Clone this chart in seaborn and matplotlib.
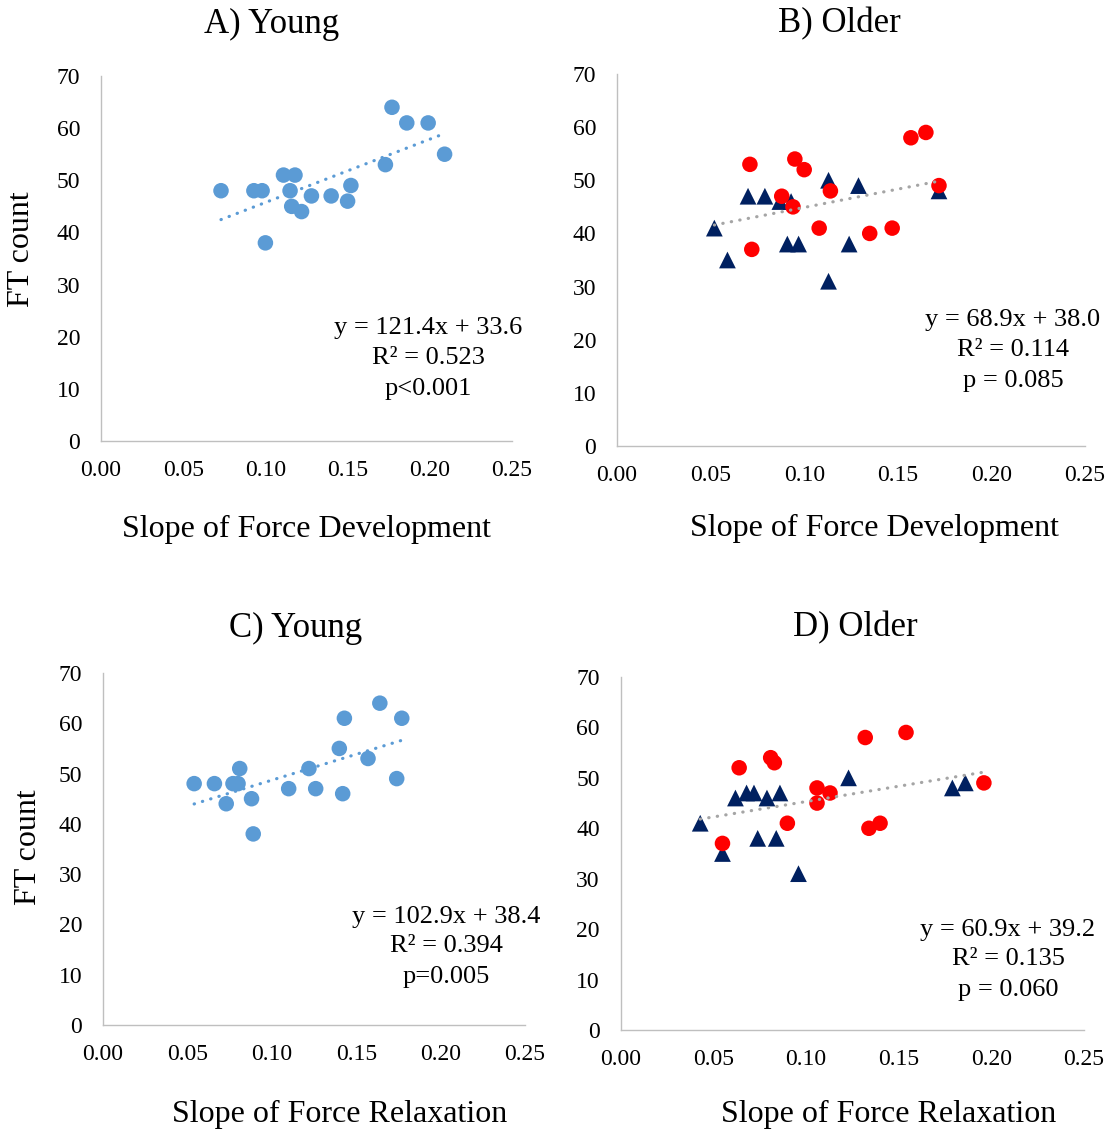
import numpy as np
import pandas as pd
import matplotlib
matplotlib.use("Agg")
import matplotlib.pyplot as plt
import seaborn as sns

# ---- data -------------------------------------------------------------
# A) Young: slope of force development vs FT count
young_dev_x = [0.073, 0.093, 0.098, 0.100, 0.111, 0.118, 0.115, 0.116, 0.122,
               0.128, 0.140, 0.150, 0.152, 0.173, 0.177, 0.186, 0.199, 0.209]
young_dev_y = [48, 48, 48, 38, 51, 51, 48, 45, 44, 47, 47, 46, 49, 53, 64, 61, 61, 55]

# B) Older: slope of force development vs FT count (two subgroups)
older_dev_red_x = [0.071, 0.095, 0.100, 0.088, 0.094, 0.114, 0.108, 0.072,
                   0.135, 0.147, 0.157, 0.165, 0.172]
older_dev_red_y = [53, 54, 52, 47, 45, 48, 41, 37, 40, 41, 58, 59, 49]
older_dev_navy_x = [0.052, 0.059, 0.070, 0.079, 0.087, 0.093, 0.091, 0.097,
                    0.113, 0.129, 0.124, 0.113, 0.172]
older_dev_navy_y = [41, 35, 47, 47, 46, 46, 38, 38, 50, 49, 38, 31, 48]

# C) Young: slope of force relaxation vs FT count
young_rel_x = [0.054, 0.066, 0.077, 0.080, 0.081, 0.073, 0.088, 0.089, 0.110,
               0.122, 0.126, 0.140, 0.143, 0.142, 0.157, 0.164, 0.177, 0.174]
young_rel_y = [48, 48, 48, 48, 51, 44, 45, 38, 47, 51, 47, 55, 61, 46, 53, 64, 61, 49]

# D) Older: slope of force relaxation vs FT count (two subgroups)
older_rel_red_x = [0.064, 0.081, 0.083, 0.055, 0.090, 0.106, 0.113, 0.106,
                   0.132, 0.154, 0.134, 0.140, 0.196]
older_rel_red_y = [52, 54, 53, 37, 41, 48, 47, 45, 58, 59, 40, 41, 49]
older_rel_navy_x = [0.043, 0.055, 0.062, 0.068, 0.072, 0.079, 0.086, 0.074,
                    0.084, 0.096, 0.123, 0.179, 0.186]
older_rel_navy_y = [41, 35, 46, 47, 47, 46, 47, 38, 38, 31, 50, 48, 49]

# linear trend coefficients (slope, intercept) and fit statistics
trend_A = (121.4, 33.6)
trend_B = (68.9, 38.0)
trend_C = (102.9, 38.4)
trend_D = (60.9, 39.2)
stats_A = ["y = 121.4x + 33.6", "R² = 0.523", "p<0.001"]
stats_B = ["y = 68.9x + 38.0", "R² = 0.114", "p = 0.085"]
stats_C = ["y = 102.9x + 38.4", "R² = 0.394", "p=0.005"]
stats_D = ["y = 60.9x + 39.2", "R² = 0.135", "p = 0.060"]

titles = ["A) Young", "B) Older", "C) Young", "D) Older"]
xlabels = ["Slope of Force Development", "Slope of Force Development",
           "Slope of Force Relaxation", "Slope of Force Relaxation"]
ylabel = "FT count"
x_ticks = [0.00, 0.05, 0.10, 0.15, 0.20, 0.25]
y_ticks = [0, 10, 20, 30, 40, 50, 60, 70]

# ---- style ------------------------------------------------------------
sns.set_theme(style="white")
plt.rcParams["font.family"] = ["Liberation Serif", "DejaVu Serif"]
plt.rcParams["text.color"] = "black"

BLUE = "#5B9BD5"
RED = "#FF0000"
NAVY = "#002060"
GREY = "#A5A5A5"
AXIS = "#BFBFBF"

W, H = 1114, 1131
fig = plt.figure(figsize=(W / 100, H / 100), dpi=100)
fig.patch.set_facecolor("white")


def px_axes(left, right, y0, y70):
    """Axes placed by pixel coordinates: left/right x, baseline and top y."""
    return fig.add_axes([left / W, 1 - y0 / H, (right - left) / W, (y0 - y70) / H])


def style_axes(ax):
    ax.set_xlim(0, 0.25)
    ax.set_ylim(0, 70)
    ax.set_xticks(x_ticks)
    ax.set_xticklabels([f"{t:.2f}" for t in x_ticks])
    ax.set_yticks(y_ticks)
    ax.set_yticklabels([str(t) for t in y_ticks])
    ax.tick_params(axis="both", length=0, labelsize=17, colors="black")
    ax.tick_params(axis="y", pad=15)
    ax.tick_params(axis="x", pad=14)
    for side in ["top", "right"]:
        ax.spines[side].set_visible(False)
    for side in ["left", "bottom"]:
        ax.spines[side].set_color(AXIS)
        ax.spines[side].set_linewidth(1.0)
    ax.set_xlabel("")
    ax.set_ylabel("")
    ax.grid(False)
    ax.set_facecolor("white")


def trend(ax, xs, coef, color):
    x0, x1 = min(xs), max(xs)
    xl = np.array([x0, x1])
    ax.plot(xl, coef[0] * xl + coef[1], color=color, lw=2.3,
            linestyle=(0, (0.1, 2.6)), dash_capstyle="round", zorder=5)


def young_panel(ax, xs, ys, coef):
    df = pd.DataFrame({"x": xs, "y": ys})
    sns.scatterplot(data=df, x="x", y="y", ax=ax, color=BLUE, s=125,
                    edgecolor="none", linewidth=0, zorder=3)
    trend(ax, xs, coef, BLUE)
    style_axes(ax)


def older_panel(ax, xr, yr, xn, yn, coef):
    dfn = pd.DataFrame({"x": xn, "y": yn})
    dfr = pd.DataFrame({"x": xr, "y": yr})
    sns.scatterplot(data=dfn, x="x", y="y", ax=ax, color=NAVY, marker="^",
                    s=145, edgecolor="none", linewidth=0, zorder=3)
    sns.scatterplot(data=dfr, x="x", y="y", ax=ax, color=RED, s=125,
                    edgecolor="none", linewidth=0, zorder=4)
    trend(ax, list(xr) + list(xn), coef, GREY)
    style_axes(ax)


axA = px_axes(101, 512, 441, 76)
axB = px_axes(617, 1085, 446, 74)
axC = px_axes(103, 525, 1025, 673)
axD = px_axes(620.5, 1084, 1030, 677)

young_panel(axA, young_dev_x, young_dev_y, trend_A)
older_panel(axB, older_dev_red_x, older_dev_red_y,
            older_dev_navy_x, older_dev_navy_y, trend_B)
young_panel(axC, young_rel_x, young_rel_y, trend_C)
older_panel(axD, older_rel_red_x, older_rel_red_y,
            older_rel_navy_x, older_rel_navy_y, trend_D)


def ftext(x, y, s, size, **kw):
    fig.text(x / W, 1 - y / H, s, fontsize=size, ha="center", va="center",
             color="black", **kw)


# panel titles
for (x, y), t in zip([(272, 24), (839, 24), (296, 628), (855, 628)], titles):
    ftext(x, y, t, 25)

# x-axis titles
for (x, y), t in zip([(307, 529), (875, 528), (340, 1114), (889, 1114)], xlabels):
    ftext(x, y, t, 23)

# y-axis titles
ftext(22, 249, ylabel, 23, rotation=90)
ftext(28, 847, ylabel, 23, rotation=90)

# regression annotations
for (cx, ys), lines in zip([(428, (328, 358, 389)),
                            (1013, (320, 350, 381)),
                            (446, (917, 946, 977)),
                            (1008, (930, 959, 990))],
                           [stats_A, stats_B, stats_C, stats_D]):
    for yy, line in zip(ys, lines):
        ftext(cx, yy, line, 19)

fig.savefig("out.png", dpi=100, facecolor="white")
